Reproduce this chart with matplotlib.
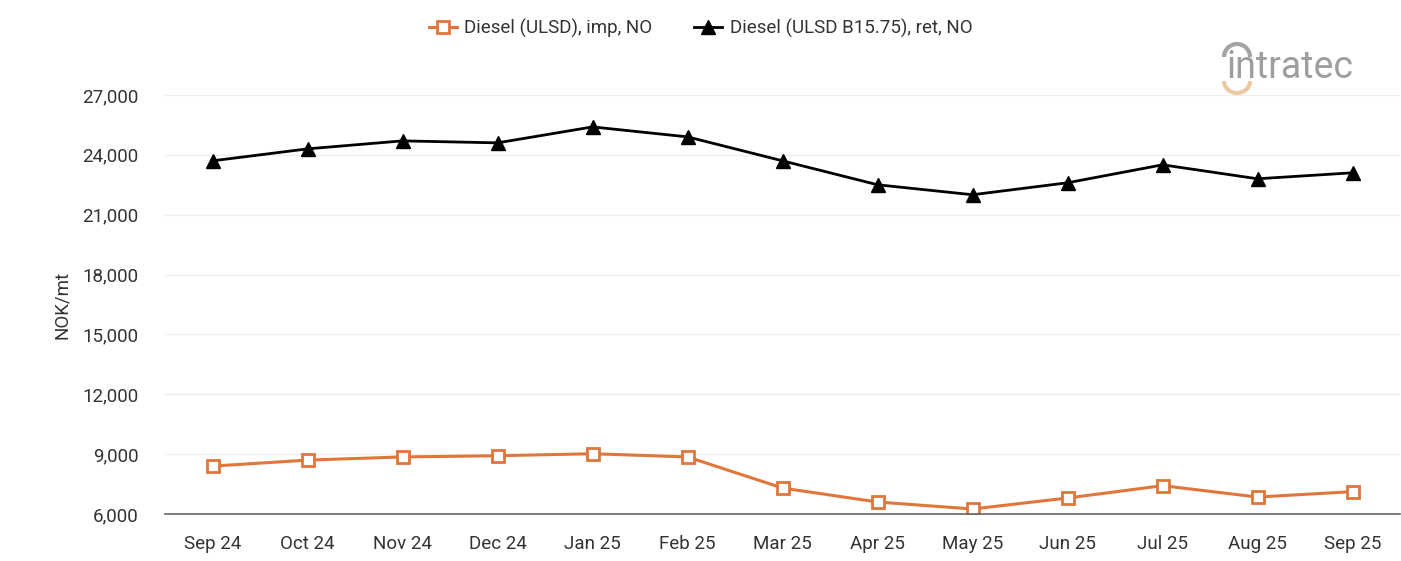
import numpy as np
import matplotlib.pyplot as plt
from matplotlib.patches import Arc

plt.rcParams['font.family'] = ['Roboto', 'DejaVu Sans']

# data
months = ['Sep 24', 'Oct 24', 'Nov 24', 'Dec 24', 'Jan 25', 'Feb 25', 'Mar 25',
          'Apr 25', 'May 25', 'Jun 25', 'Jul 25', 'Aug 25', 'Sep 25']
diesel_imp = [8400, 8700, 8860, 8920, 9020, 8860, 7300, 6600, 6250, 6800, 7420, 6850, 7120]
diesel_ret = [23700, 24300, 24700, 24600, 25400, 24900, 23700, 22500, 22000, 22600, 23500, 22800, 23100]
yticks = [6000, 9000, 12000, 15000, 18000, 21000, 24000, 27000]

orange = '#E0763A'
W, H = 1401, 561

fig = plt.figure(figsize=(W / 100, H / 100), dpi=100)
ax = fig.add_axes([0.1178, 0.0838, 0.8815, 0.7469])

x = np.arange(len(months))
ax.plot(x, diesel_imp, color=orange, linewidth=2.2, marker='s', markersize=8,
        markerfacecolor='white', markeredgecolor=orange, markeredgewidth=2,
        label='Diesel (ULSD), imp, NO')
ax.plot(x, diesel_ret, color='black', linewidth=2.0, marker='^', markersize=10,
        markerfacecolor='black', markeredgecolor='black',
        label='Diesel (ULSD B15.75), ret, NO')

ax.set_xlim(-0.5, len(months) - 0.5)
ax.set_ylim(6000, 27000)
ax.set_xticks(x)
ax.set_xticklabels(months)
ax.set_yticks(yticks)
ax.set_yticklabels([f'{v:,}' for v in yticks])
ax.tick_params(axis='both', length=0, labelsize=13.5, colors='#333333')
ax.tick_params(axis='x', pad=15)
ax.tick_params(axis='y', pad=19)

ax.grid(axis='y', color='#eeeeee', linewidth=1)
ax.set_axisbelow(True)
for s in ['top', 'right', 'left']:
    ax.spines[s].set_visible(False)
ax.spines['bottom'].set_color('#666666')
ax.spines['bottom'].set_linewidth(1.2)

ax.set_ylabel('NOK/mt', fontsize=13.5, color='#333333', labelpad=8)

fig.legend(loc='center', bbox_to_anchor=(0.5, 0.949), ncol=2, frameon=False,
           fontsize=13.5, handlelength=1.5, handletextpad=0.4, columnspacing=2.2,
           labelcolor='#333333')

# logo, approximated with text and two arcs
fig.text(1226 / W, 1 - 68 / H, 'intratec', fontsize=27, color='#9e9e9e',
         ha='left', va='center')
fig.add_artist(Arc((1237 / W, 1 - 57 / H), 26 / W, 26 / H, theta1=0, theta2=180,
                   transform=fig.transFigure, color='#a3a3a3', linewidth=3))
fig.add_artist(Arc((1237 / W, 1 - 81 / H), 26 / W, 24 / H, theta1=180, theta2=360,
                   transform=fig.transFigure, color='#ecc9a6', linewidth=3))

fig.savefig('out.png', dpi=100)
